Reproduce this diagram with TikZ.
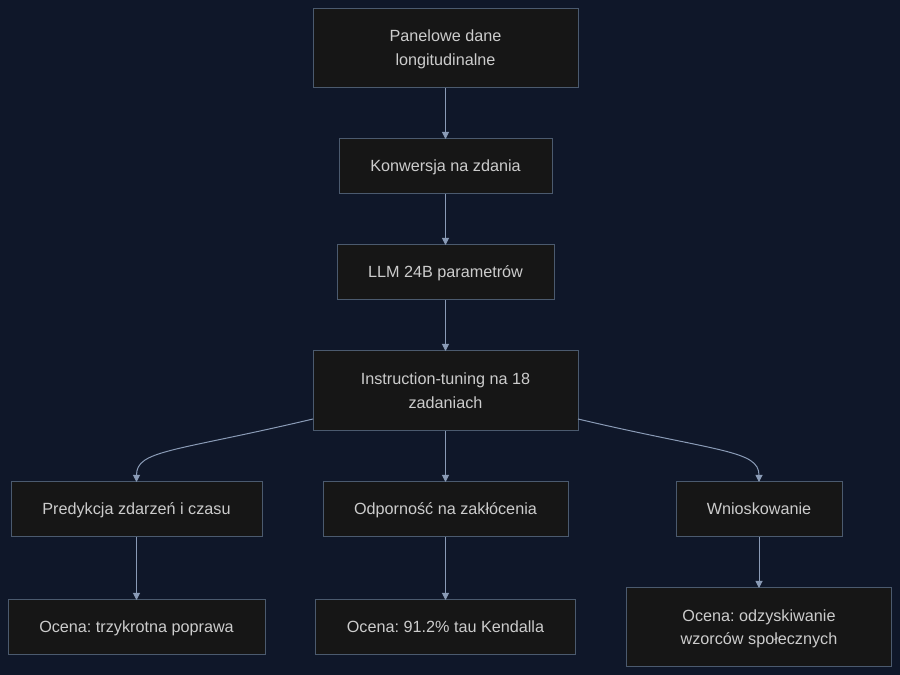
\documentclass[tikz,border=0pt]{standalone}
\usepackage{fontspec}
\setmainfont{Liberation Sans}
\usepackage{tikz}
\usetikzlibrary{positioning,arrows.meta}
\frenchspacing

\definecolor{bgnavy}{HTML}{0F1729}
\definecolor{boxfill}{HTML}{161616}
\definecolor{boxline}{HTML}{4B5A6E}
\definecolor{edgeline}{HTML}{8A9BB6}
\definecolor{txt}{HTML}{CCCCCC}

\begin{document}
\begin{tikzpicture}[
        x=1pt, y=1pt,
        node distance=51pt and 61pt,
        >={Triangle[length=7pt, width=7pt]},
        box/.style={rectangle, draw=boxline, fill=boxfill, line width=1pt, outer sep=0pt, text=txt, align=center, inner sep=0pt, minimum height=55pt, font=\fontsize{16.2pt}{24pt}\selectfont, execute at begin node=\strut},
        twoline/.style={minimum height=79pt, text height=42pt, text depth=7pt},
        arrow/.style={->, draw=edgeline, line width=1pt}
    ]
    \fill[bgnavy] (0,0) rectangle (900,675);
    \useasboundingbox (0,0) rectangle (900,675);

    \node[box, twoline, minimum width=265pt] (panel) at (445.5,626.5) {Panelowe dane\\ longitudinalne};
    \node[box, minimum width=213pt, below=of panel] (konw) {Konwersja na zdania};
    \node[box, minimum width=217pt, below=of konw] (llm) {LLM 24B parametrów};
    \node[box, twoline, minimum width=265pt, minimum height=80pt, below=of llm] (instr) {Instruction-tuning na 18\\ zadaniach};

    \node[box, minimum width=245pt, below=of instr] (odp) {Odporność na zakłócenia};
    \node[box, minimum width=251pt, left=61pt of odp] (pred) {Predykcja zdarzeń i czasu};
    \node[box, minimum width=166pt, right=108pt of odp] (wnio) {Wnioskowanie};

    \node[box, minimum width=257pt, below=63pt of pred] (ocena1) {Ocena: trzykrotna poprawa};
    \node[box, minimum width=260pt, below=63pt of odp] (ocena2) {Ocena: 91.2\% tau Kendalla};
    \node[box, twoline, minimum width=265pt, below=of wnio] (ocena3) {Ocena: odzyskiwanie\\ wzorców społecznych};

    \draw[arrow] (panel) -- (konw);
    \draw[arrow] (konw) -- (llm);
    \draw[arrow] (llm) -- (instr);

    \draw[arrow] ([yshift=12pt]instr.south west) .. controls +(-140,-33) and +(0,32) .. (pred.north);
    \draw[arrow] (instr) -- (odp);
    \draw[arrow] ([yshift=12pt]instr.south east) .. controls +(140,-33) and +(0,32) .. (wnio.north);

    \draw[arrow] (pred) -- (ocena1);
    \draw[arrow] (odp) -- (ocena2);
    \draw[arrow] (wnio) -- (ocena3);
    \end{tikzpicture}
\end{document}
